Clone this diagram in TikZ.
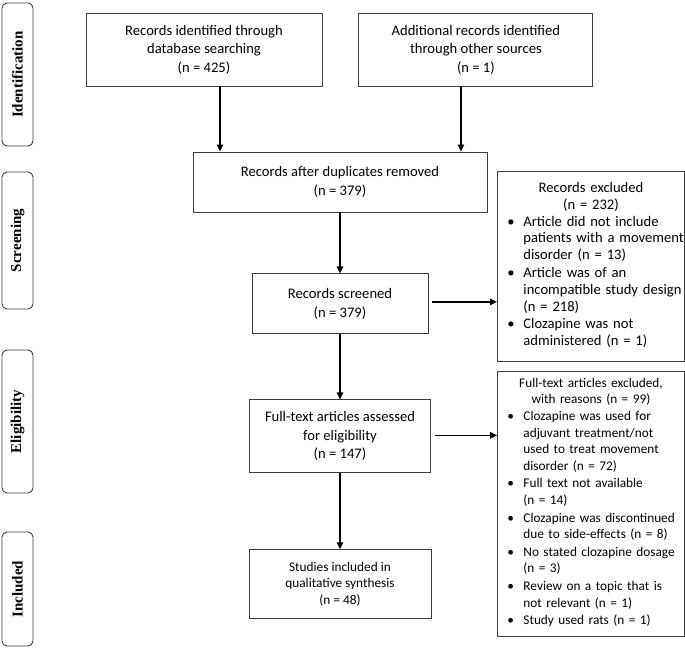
\documentclass[tikz,border=0pt]{standalone}
\usepackage{fontspec}
\setmainfont{Carlito}
\newfontfamily\stagefont{Liberation Serif}
\usetikzlibrary{arrows.meta,
                positioning}
\definecolor{boxgray}{RGB}{60,60,60}
\tikzset{
    block/.style = {rectangle, draw=boxgray, line width=0.9pt, inner sep=0pt,
                    align=center, font=\fontsize{14.6}{18.5}\selectfont},
    smallblock/.style = {block, font=\fontsize{13.3}{16.4}\selectfont},
    exclbox/.style = {rectangle, draw=boxgray, line width=0.9pt, inner xsep=1pt,
                    inner ysep=0pt, text width=185pt},
    stage/.style = {rectangle, rounded corners=5pt, draw=boxgray, line width=0.9pt,
                    minimum height=31pt, inner sep=0pt, rotate=90,
                    font=\stagefont\bfseries\fontsize{15}{18}\selectfont},
    flow/.style = {draw, line width=1.3pt, -{Triangle[length=7pt,width=6.5pt]}}
    }
% bullet item, lines split by \\
\newcommand{\bul}[1]{\par\noindent\makebox[25pt][l]{\hspace{9pt}\textbullet}%
    \begin{tabular}[t]{@{}l@{}}#1\end{tabular}}

\begin{document}
\begin{tikzpicture}[x=1pt, y=-1pt]
\useasboundingbox (0,0) rectangle (685,648);
% stages
\node [stage, minimum width=143pt] (ident) at (17.5,74.5) {Identification};
\node [stage, minimum width=137pt] (screen) at (17.5,240.5) {Screening};
\node [stage, minimum width=143pt] (elig) at (17.5,421.5) {Eligibility};
\node [stage, minimum width=114pt] (incl) at (17.5,589) {Included};
% main column
\node [block, minimum width=236pt, minimum height=73pt] (db) at (204,49.5)
      {Records identified through\\database searching\\(n = 425)};
\node [block, right=36pt of db, minimum width=234pt, minimum height=73pt] (other)
      {Additional records identified\\through other sources\\(n = 1)};
\node [block, minimum width=294pt, minimum height=60pt] (dup) at (340,182)
      {Records after duplicates removed\\(n = 379)};
\node [block, below=61pt of dup, minimum width=176pt, minimum height=60pt] (screened)
      {Records screened\\(n = 379)};
\node [block, below=65pt of screened, minimum width=181pt, minimum height=73pt] (fulltext)
      {Full-text articles assessed\\for eligibility\\(n = 147)};
\node [smallblock, below=76pt of fulltext, minimum width=182pt, minimum height=69pt] (studies)
      {Studies included in\\qualitative synthesis\\(n = 48)};
% exclusions
\node [exclbox, anchor=north west, minimum height=190pt,
       font=\fontsize{14.6}{16.8}\selectfont] (excl1) at (497,171)
      {{\centering Records excluded\\(n = 232)\par}
       \bul{Article did not include\\patients with a movement\\disorder (n = 13)}
       \bul{Article was of an\\incompatible study design\\(n = 218)}
       \bul{Clozapine was not\\administered (n = 1)}\par};
\node [exclbox, below=9pt of excl1, minimum height=265pt,
       font=\fontsize{13.3}{16.6}\selectfont] (excl2)
      {{\centering Full-text articles excluded,\\with reasons (n = 99)\par}
       \bul{Clozapine was used for\\adjuvant treatment/not\\used to treat movement\\disorder (n = 72)}
       \bul{Full text not available\\(n = 14)}
       \bul{Clozapine was discontinued\\due to side-effects (n = 8)}
       \bul{No stated clozapine dosage\\(n = 3)}
       \bul{Review on a topic that is\\not relevant (n = 1)}
       \bul{Study used rats (n = 1)}\par};
% arrows
\draw [flow] ([xshift=16pt]db.south) -- ([xshift=16pt]db.south |- dup.north);
\draw [flow] ([xshift=-15pt]other.south) -- ([xshift=-15pt]other.south |- dup.north);
\draw [flow] (dup) -- (screened);
\draw [flow] (screened) -- (fulltext);
\draw [flow] (fulltext) -- (studies);
\draw [flow] ([xshift=4pt,yshift=2pt]screened.east) -- ([yshift=2pt]screened.east -| excl1.west);
\draw [flow] ([xshift=4pt,yshift=1pt]fulltext.east) -- ([yshift=1pt]fulltext.east -| excl2.west);
\end{tikzpicture}
\end{document}
